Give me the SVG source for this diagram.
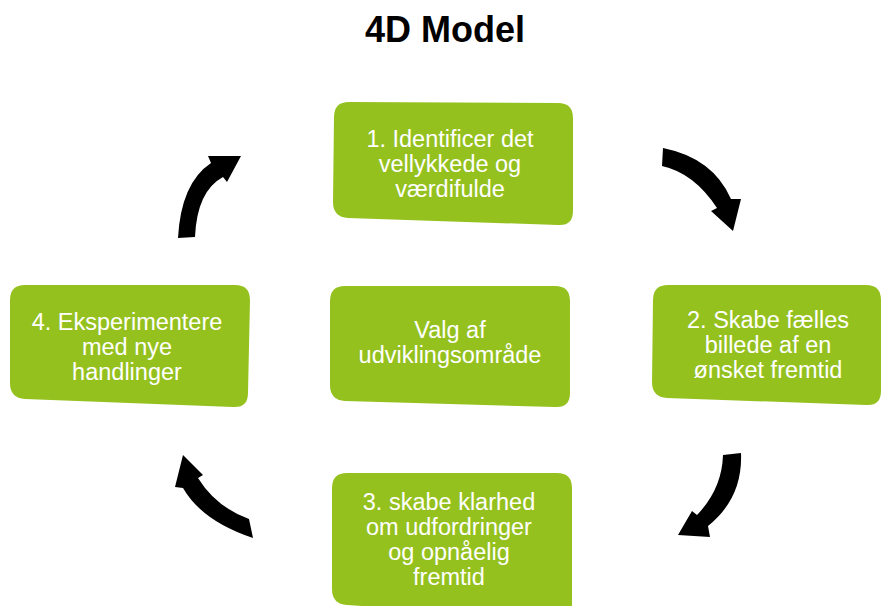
<svg xmlns="http://www.w3.org/2000/svg" width="882" height="606" viewBox="0 0 882 606">
<style>
.box{fill:#95c11f;}
.t{font-family:"Liberation Sans",Arial,sans-serif;font-size:23.5px;fill:#ffffff;text-anchor:middle;}
.title{font-family:"Liberation Sans",Arial,sans-serif;font-size:36px;font-weight:bold;fill:#000000;text-anchor:middle;}
.arr{fill:#000000;}
</style>
<rect width="882" height="606" fill="#ffffff"/>
<text class="title" x="445" y="42">4D Model</text>
<g id="connectors">
<path class="arr" d="M663,148 Q713,158 731,199 L741,199 L733,231 L711,211 L717,208 Q694,173 662,166 Z"/>
<path class="arr" d="M723,455 L741,453 Q743,498 708,526 L710,537 L678,535 L692,511 L697,515 Q722,489 723,455 Z"/>
<path class="arr" d="M249,519 L253,538 Q202,521 183,488 L175,487 L183,455 L203,475 L198,478 Q216,507 249,519 Z"/>
<path class="arr" d="M178,238 Q181,183 211,163 L208,156 L241,156 L227,182 L223,177 Q197,191 195,237 Z"/>
</g>
<g id="node1">
<path class="box" d="M349,102 L558,103 Q573,103 573,118 L573,211 Q573,226 558,225 L348,218 Q333,217 333,202 L334,117 Q334,102 349,102 Z"/>
<text class="t" x="450" y="147">1. Identificer det</text>
<text class="t" x="450" y="172">vellykkede og</text>
<text class="t" x="450" y="197">værdifulde</text>
</g>
<g id="node2">
<path class="box" d="M668,285 L866,285 Q881,285 881,300 L881,391 Q881,406 866,405 L667,398 Q652,397 652,382 L653,300 Q653,285 668,285 Z"/>
<text class="t" x="768" y="328">2. Skabe fælles</text>
<text class="t" x="768" y="353">billede af en</text>
<text class="t" x="768" y="378">ønsket fremtid</text>
</g>
<g id="node3">
<path class="box" d="M347,473 L557,473 Q572,473 572,488 L572,620 L347,605 Q332,604 332,589 L332,488 Q332,473 347,473 Z"/>
<text class="t" x="449" y="510">3. skabe klarhed</text>
<text class="t" x="449" y="535">om udfordringer</text>
<text class="t" x="449" y="560">og opnåelig</text>
<text class="t" x="449" y="585">fremtid</text>
</g>
<g id="node4">
<path class="box" d="M25,285 L235,285 Q250,285 250,300 L248,393 Q248,408 233,407 L25,399 Q10,398 10,383 L10,300 Q10,285 25,285 Z"/>
<text class="t" x="127" y="330">4. Eksperimentere</text>
<text class="t" x="127" y="355">med nye</text>
<text class="t" x="127" y="380">handlinger</text>
</g>
<g id="center">
<path class="box" d="M345,286 L555,286 Q570,286 570,301 L570,393 Q570,408 555,407 L345,401 Q330,400 330,385 L330,301 Q330,286 345,286 Z"/>
<text class="t" x="450" y="338">Valg af</text>
<text class="t" x="450" y="363">udviklingsområde</text>
</g>
</svg>
